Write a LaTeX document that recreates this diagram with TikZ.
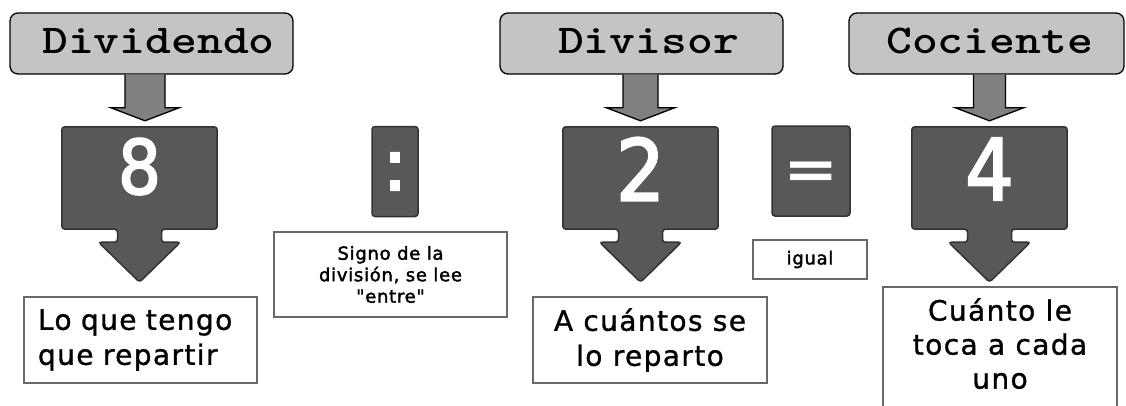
\documentclass[tikz,border=0pt]{standalone}
\usepackage{fontspec}
\usepackage{graphicx}
\usetikzlibrary{calc,backgrounds}
\newfontfamily\dejavu{DejaVu Sans}[FakeBold=3]
\newfontfamily\dejavubold{DejaVu Sans Bold}
\newfontfamily\digitf{DejaVu Sans Condensed}[FakeBold=2.5]
\newfontfamily\bodyf{DejaVu Sans}[LetterSpace=5,FakeBold=1.2]
\newfontfamily\smallf{DejaVu Sans}[LetterSpace=4,FakeBold=2]
\definecolor{labfill}{RGB}{196,196,196}
\definecolor{arrfill}{RGB}{128,128,128}
\definecolor{darkfill}{RGB}{88,88,88}
\definecolor{darkline}{RGB}{50,50,50}
\definecolor{boxline}{RGB}{105,105,105}
\tikzset{
  lab/.style={draw=black, line width=1.3pt, fill=labfill, rounded corners=8pt,
    minimum height=61pt, inner sep=0pt,
    font=\fontsize{41}{41}\selectfont\ttfamily\bfseries, text height=25pt, text depth=6pt},
  toparr/.style={draw=black, line width=1.3pt, fill=arrfill, line join=miter},
  num/.style={inner sep=0pt, text=white, minimum width=155pt, minimum height=102pt},
  darkshape/.style={fill=darkfill, draw=darkline, line width=1.5pt, rounded corners=3pt},
  signbox/.style={fill=darkfill, draw=darkline, line width=1.5pt, rounded corners=3pt,
    inner sep=0pt, text=white},
  txtbox/.style={draw=boxline, line width=2.5pt, fill=white, align=center},
  bigtxt/.style={font=\bodyf\fontsize{28}{35}\selectfont},
  smalltxt/.style={font=\smallf\fontsize{18}{21.5}\selectfont},
}
\newcommand\numcallout[1]{%
  \draw[darkshape] (#1.north west) -- (#1.north east) -- (#1.south east)
    -- ($(#1.south)+(22,0)$) -- ($(#1.south)+(22,13)$) -- ($(#1.south)+(41,13)$)
    -- ($(#1.south)+(0,53)$) -- ($(#1.south)+(-41,13)$) -- ($(#1.south)+(-22,13)$)
    -- ($(#1.south)+(-22,0)$) -- (#1.south west) -- cycle;}
\newcommand\toparrow[4]{%
  \draw[toparr] ($(#2.north |- #1.south)+({#3-#4},0)$) -- ($(#2.north)+({#3-#4},-19)$)
    -- ($(#2.north)+({#3-34},-19)$) -- ($(#2.north)+(#3,-6)$)
    -- ($(#2.north)+({#3+34},-19)$) -- ($(#2.north)+({#3+#4},-19)$)
    -- ($(#2.north |- #1.south)+({#3+#4},0)$);}
\begin{document}
\begin{tikzpicture}[x=1pt,y=-1pt]
\useasboundingbox (0,0) rectangle (1126,405);
\clip (0,0) rectangle (1126,405);
% top labels
\node[lab, minimum width=283pt] (l1) at (151.5,43.5) {\hspace{14pt}\scalebox{1.2}[1]{Dividendo}};
\node[lab, minimum width=283pt] (l2) at (641.5,43.5) {\hspace{14pt}\scalebox{1.2}[1]{Divisor}};
\node[lab, minimum width=275pt] (l3) at (986.5,43.5) {\hspace{6pt}\scalebox{1.2}[1]{Cociente}};
% number boxes
\node[num, font=\digitf\fontsize{75}{75}\selectfont, text depth=24pt] (n8) at (139.5,178) {8};
\node[num, font=\digitf\fontsize{85}{85}\selectfont, text depth=18pt] (n2) at (640.5,178) {2};
\node[num, font=\digitf\fontsize{85}{85}\selectfont, text depth=18pt] (n4) at (989.5,178) {4};
\begin{pgfonlayer}{background}
\numcallout{n8}
\numcallout{n2}
\numcallout{n4}
\end{pgfonlayer}
% sign boxes
\node[signbox, minimum width=46pt, minimum height=90pt, font=\dejavu\fontsize{72}{72}\selectfont] (colon) at (395,171.5) {:};
\node[signbox, minimum width=78pt, minimum height=90pt, font=\dejavubold\fontsize{55}{55}\selectfont,
  text height=35pt, text depth=0pt] (eq) at (811,171) {\scalebox{1.2}[1]{=}};
% top arrows
\toparrow{l1}{n8}{5.5}{20}
\toparrow{l2}{n2}{0}{17.5}
\toparrow{l3}{n4}{0}{16}
% text boxes
\node[txtbox, bigtxt, minimum width=233pt, minimum height=86pt, inner xsep=14pt,
  text width=205pt, align=left] (t1) at (140.5,340) {Lo que tengo\\que repartir};
\node[txtbox, smalltxt, minimum width=233pt, minimum height=85pt] (t3) at (390.5,274.5)
  {Signo de la\\división, se lee\\"entre"};
\node[txtbox, bigtxt, minimum width=234pt, minimum height=86pt] (t2) at (650,340)
  {A cuántos se\\lo reparto};
\node[txtbox, smalltxt, minimum width=114pt, minimum height=39pt] (t4) at (810,259.5) {igual};
\node[font=\bodyf\fontsize{28}{34}\selectfont, align=center, anchor=north, minimum width=234pt,
  inner ysep=11pt] (t5) at (1000,287) {Cuánto le\\toca a cada\\uno};
\draw[draw=boxline, line width=2.5pt] (t5.north west) rectangle ($(t5.south east)+(0,40)$);
\end{tikzpicture}
\end{document}
